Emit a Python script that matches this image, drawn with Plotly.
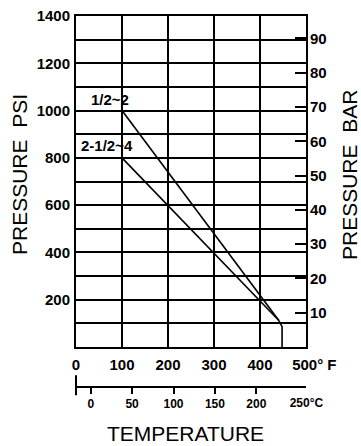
import plotly.graph_objects as go

# ---- data ----
NB = "\u00a0"
temp_f_ticks = [0, 100, 200, 300, 400, 500]
temp_f_ticktext = ["0", "100", "200", "300", "400", NB * 4 + "500° F"]
psi_ticks = [200, 400, 600, 800, 1000, 1200, 1400]
bar_ticks = [10, 20, 30, 40, 50, 60, 70, 80, 90]
temp_c_ticks = [0, 50, 100, 150, 200]
temp_c_ticktext = ["0", "50", "100", "150", "200"]
temp_c_last = 250
temp_c_last_text = "250°C"

small_f = [100, 441]
small_psi = [1000, 112]
large_f = [100, 441]
large_psi = [800, 112]
cut_f = [441, 448, 448]
cut_psi = [112, 86, 0]

PSI_PER_BAR = 14.5038
NUM_FONT = "Liberation Sans, Arial, sans-serif"
TITLE_FONT = "Liberation Sans, Arial, sans-serif"

fig = go.Figure()
line = dict(color="black", width=1.6)
fig.add_trace(go.Scatter(x=small_f, y=small_psi, mode="lines", line=line, hoverinfo="skip"))
fig.add_trace(go.Scatter(x=large_f, y=large_psi, mode="lines", line=line, hoverinfo="skip"))
fig.add_trace(go.Scatter(x=cut_f, y=cut_psi, mode="lines", line=line, hoverinfo="skip"))
# helper traces to make secondary axes render
fig.add_trace(go.Scatter(x=[None], y=[None], yaxis="y2", showlegend=False, hoverinfo="skip"))
fig.add_trace(go.Scatter(x=[None], y=[None], xaxis="x2", showlegend=False, hoverinfo="skip"))

# paper spans from top of plot (y=16px) to celsius axis line (y=387px)
paper_top, paper_bot, plot_bot = 16, 387, 347
ML, MR = 76, 55
ydom0 = (paper_bot - plot_bot) / (paper_bot - paper_top)

num_font = dict(family=NUM_FONT, size=15, color="black", weight="bold")
c_font = dict(family=NUM_FONT, size=12, color="black", weight="bold")

fig.update_layout(
    width=361, height=446,
    margin=dict(l=ML, r=MR, t=paper_top, b=446 - paper_bot, autoexpand=False),
    paper_bgcolor="white", plot_bgcolor="white",
    showlegend=False,
    xaxis=dict(
        range=[0, 500], tickvals=temp_f_ticks, ticktext=temp_f_ticktext,
        showgrid=True, gridcolor="black", gridwidth=2,
        showline=True, linecolor="black", linewidth=2, mirror=True,
        ticks="", tickfont=num_font, zeroline=False, anchor="y",
        ticklabelstandoff=3, automargin=False,
    ),
    yaxis=dict(
        domain=[ydom0, 1], range=[0, 1400],
        tickvals=psi_ticks,
        showgrid=True, gridcolor="black", gridwidth=2,
        minor=dict(dtick=100, tick0=0, showgrid=True, gridcolor="black", gridwidth=2),
        showline=True, linecolor="black", linewidth=2, mirror=True,
        ticks="", tickfont=num_font, zeroline=False,
        ticklabelstandoff=1, automargin=False,
    ),
    yaxis2=dict(
        overlaying="y", side="right", range=[0, 1400 / PSI_PER_BAR],
        tickvals=bar_ticks, ticks="inside", ticklen=11, tickwidth=2, tickcolor="black",
        showgrid=False, showline=False, zeroline=False, tickfont=num_font,
        ticklabelstandoff=3, automargin=False,
    ),
    xaxis2=dict(
        anchor="free", position=0, overlaying="x", side="bottom",
        range=[(0 - 32) / 1.8, (500 - 32) / 1.8],
        tickvals=temp_c_ticks, ticktext=temp_c_ticktext,
        ticks="outside", ticklen=6, tickwidth=2, tickcolor="black",
        showline=True, linecolor="black", linewidth=2,
        showgrid=False, zeroline=False, automargin=False,
        tickfont=c_font,
    ),
)

fig.add_shape(type="line", xref="x2 domain", yref="paper",
              x0=0, x1=0, y0=0.032, y1=-0.022, line=dict(color="black", width=2))

ann_font = dict(family=NUM_FONT, size=15, color="black", weight="bold")
fig.add_annotation(x=74, y=1046, xref="x", yref="y", text="1/2~2", showarrow=False, font=ann_font)
fig.add_annotation(x=67, y=852, xref="x", yref="y", text="2-1/2~4", showarrow=False, font=ann_font)

# pixel-positioned titles, converted to paper coordinates
pw = 361 - ML - MR
ph = paper_bot - paper_top
def px2paper(px, py):
    return (px - ML) / pw, (paper_bot - py) / ph

# last celsius label (no tick mark in the reference)
_, cy = px2paper(0, 403)
fig.add_annotation(x=temp_c_last, y=cy, xref="x2", yref="paper", text=NB * 5 + temp_c_last_text,
                   xanchor="center", yanchor="middle", showarrow=False, font=c_font)

title_font = dict(family=TITLE_FONT, size=21, color="black")
for txt, px, py, ang in [("PRESSURE  PSI", 19, 175, -90),
                         ("PRESSURE  BAR", 349, 175, -90),
                         ("TEMPERATURE", 185, 433, 0)]:
    x, y = px2paper(px, py)
    fig.add_annotation(x=x, y=y, xref="paper", yref="paper", text=txt,
                       xanchor="center", yanchor="middle",
                       showarrow=False, textangle=ang, font=title_font)

fig.write_html("out.html", config={"displayModeBar": False},
               post_script="document.body.style.margin='0';")
